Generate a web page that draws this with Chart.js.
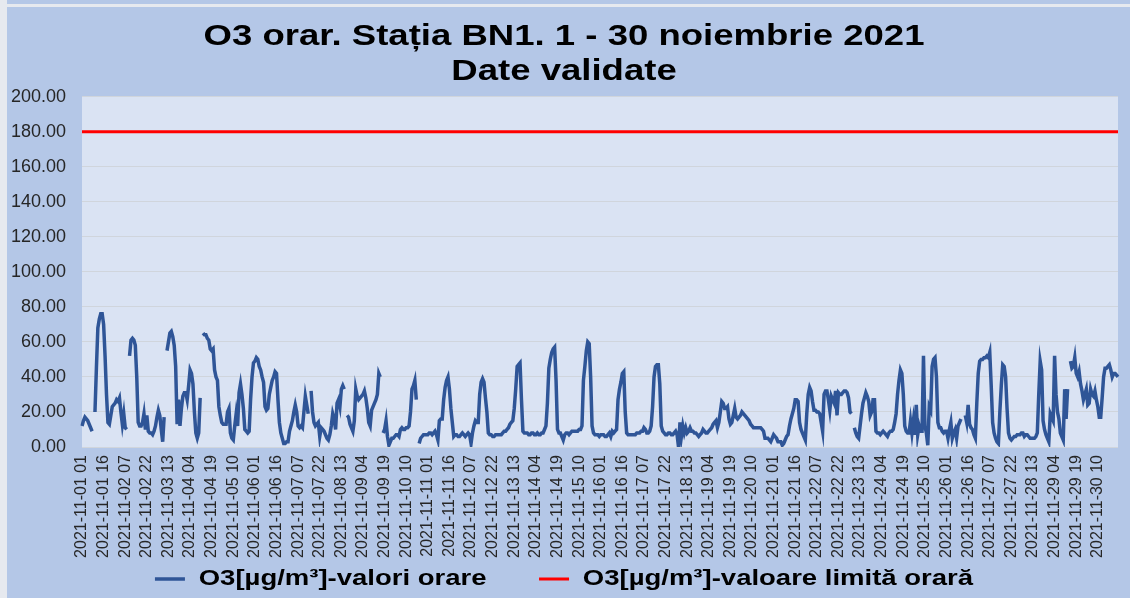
<!DOCTYPE html>
<html><head><meta charset="utf-8">
<script src="https://cdn.jsdelivr.net/npm/chart.js@4"></script>
<style>html,body{margin:0;padding:0;background:#b4c7e7;}canvas{display:block;}</style>
</head><body>
<canvas id="c" width="1130" height="598"></canvas>
<script>
// Hourly O3 values (µg/m³), one array per day, hours 01..24
const day01=[12,15,17,16,15,13,11,9,null,20,45,68,73,76,76,70,52,30,14,13,18,23,24,25];
const day02=[27,26,28,20,13,19,11,10,null,52,61,62,61,58,40,14,12,12,14,19,10,18,9,8];
const day03=[8,7,9,12,17,21,18,10,3,17,null,55,60,65,66,63,58,46,13,27,12,22,29,31];
const day04=[31,27,35,44,42,36,20,8,5,8,28,null,65,64,64,62,61,56,55,56,44,40,38,23];
const day05=[18,14,13,13,13,20,22,8,5,4,12,19,12,31,36,30,22,10,9,8,9,27,40,48];
const day06=[49,51,50,46,44,40,37,23,21,22,30,34,38,40,43,42,27,14,8,5,2,2,3,3];
const day07=[9,12,15,20,24,20,12,11,12,11,20,29,24,19,null,32,20,14,12,13,14,6,11,10];
const day08=[9,7,5,4,7,12,19,16,10,25,27,23,33,35,33,null,18,17,13,11,9,15,33,29];
const day09=[27,28,29,30,32,28,22,14,12,21,23,25,27,30,42,40,null,8,10,15,6,1,3,5];
const day10=[5,6,7,7,6,10,11,10,10,11,11,12,20,33,35,38,27,null,2,5,6,7,7,7];
const day11=[7,8,8,7,8,9,7,4,15,16,16,27,34,38,40,33,22,14,6,7,7,6,6,7];
const day12=[8,7,6,7,8,7,2,8,12,15,14,14,30,37,39,37,28,20,8,7,7,6,6,7];
const day13=[7,7,7,7,8,9,9,10,11,13,14,15,22,33,46,47,48,27,9,8,8,8,7,7];
const day14=[8,8,7,7,8,7,7,8,8,10,12,25,45,50,54,56,57,38,10,8,8,6,4,7];
const day15=[8,8,7,8,9,9,9,9,9,10,10,12,38,46,55,60,59,40,12,8,7,7,7,6];
const day16=[7,7,7,6,6,7,8,6,9,8,9,10,27,33,37,42,43,20,8,7,7,7,7,7];
const day17=[7,8,8,8,9,9,11,10,8,8,9,12,23,40,46,47,47,36,12,9,8,7,7,8];
const day18=[8,7,7,8,9,7,0,14,6,12,8,11,8,9,11,9,9,8,8,7,6,7,8,10];
const day19=[9,8,8,9,10,11,13,14,15,11,14,20,26,25,22,22,23,16,13,14,18,22,17,16];
const day20=[17,18,20,19,18,17,16,15,13,12,11,11,11,11,11,11,10,9,5,5,5,4,3,5];
const day21=[7,6,5,3,3,3,1,2,4,6,7,12,16,19,22,27,27,26,14,10,8,6,4,19];
const day22=[30,34,32,26,21,21,20,20,19,14,9,30,32,32,27,21,29,27,25,32,18,31,30,30];
const day23=[31,32,32,31,28,20,19,null,11,8,6,5,12,19,25,28,31,29,26,18,20,27,27,9];
const day24=[8,8,7,8,9,8,7,6,8,9,9,10,14,19,30,38,44,42,30,12,9,8,8,15];
const day25=[8,15,7,24,7,12,9,9,52,12,8,1,23,21,46,50,51,40,14,11,11,9,8,9];
const day26=[9,5,10,14,5,8,10,5,12,14,16,null,null,18,14,24,13,11,10,7,5,25,42,49];
const day27=[50,50,51,51,52,51,54,35,14,8,5,3,2,20,35,47,46,40,22,8,5,4,5,6];
const day28=[6,7,7,7,8,8,6,7,7,6,5,5,5,5,6,8,30,49,44,15,10,7,5,3];
const day29=[19,17,15,52,30,20,16,8,6,4,33,16,33,null,49,45,46,51,42,40,43,36,32,27];
const day30=[30,33,24,25,33,30,29,32,27,23,17,17,28,40,45,45,46,47,44,40,42,42,41,40];

const limitValue=180;

const tickLabels=[
'2021-11-01 01','2021-11-01 16','2021-11-02 07','2021-11-02 22','2021-11-03 13','2021-11-04 04',
'2021-11-04 19','2021-11-05 10','2021-11-06 01','2021-11-06 16','2021-11-07 07','2021-11-07 22',
'2021-11-08 13','2021-11-09 04','2021-11-09 19','2021-11-10 10','2021-11-11 01','2021-11-11 16',
'2021-11-12 07','2021-11-12 22','2021-11-13 13','2021-11-14 04','2021-11-14 19','2021-11-15 10',
'2021-11-16 01','2021-11-16 16','2021-11-17 07','2021-11-17 22','2021-11-18 13','2021-11-19 04',
'2021-11-19 19','2021-11-20 10','2021-11-21 01','2021-11-21 16','2021-11-22 07','2021-11-22 22',
'2021-11-23 13','2021-11-24 04','2021-11-24 19','2021-11-25 10','2021-11-26 01','2021-11-26 16',
'2021-11-27 07','2021-11-27 22','2021-11-28 13','2021-11-29 04','2021-11-29 19','2021-11-30 10'];

const days=[day01,day02,day03,day04,day05,day06,day07,day08,day09,day10,day11,day12,day13,day14,day15,
day16,day17,day18,day19,day20,day21,day22,day23,day24,day25,day26,day27,day28,day29,day30];
const o3=[].concat(...days);
const pad=n=>String(n).padStart(2,'0');
const categories=[];
days.forEach((d,di)=>d.forEach((v,h)=>categories.push('2021-11-'+pad(di+1)+' '+pad(h+1))));

const FONT="'Liberation Sans', Arial, sans-serif";

const bgPlugin={id:'bg',beforeDraw(chart){
  const c=chart.ctx, a=chart.chartArea;
  c.save();
  c.fillStyle='#b4c7e7'; c.fillRect(0,0,chart.width,chart.height);
  c.fillStyle='#e6e9ef'; c.fillRect(0,0,7,chart.height); c.fillRect(0,4,chart.width,3);
  c.fillStyle='#dae3f3'; c.fillRect(a.left,a.top,a.right-a.left,a.bottom-a.top);
  c.restore();
}};

// the reference's title and legend text is drawn horizontally widened
const stretchPlugin={id:'stretch',beforeDraw(chart){
  [[chart.titleBlock,1.26,0],[chart.legend,1.25,32]].forEach(([box,sx,up])=>{
    if(!box||box._stretched) return;
    const orig=box.draw;
    box.draw=function(...args){
      const c=chart.ctx, cx=(this.left+this.right)/2, t=this.top;
      this.top=t-up;
      c.save(); c.translate(cx,0); c.scale(sx,1); c.translate(-cx,0);
      orig.apply(this,args); c.restore();
      this.top=t;
    };
    box._stretched=true;
  });
}};

new Chart(document.getElementById('c'),{
  type:'line',
  data:{labels:categories,datasets:[
    {label:'O3[µg/m³]-valori orare',data:o3,borderColor:'#2f5597',backgroundColor:'#2f5597',borderWidth:3.5,pointRadius:0,tension:0,spanGaps:false},
    {label:'O3[µg/m³]-valoare limită orară',data:[{x:categories[0],y:limitValue},{x:categories[categories.length-1],y:limitValue}],borderColor:'#ff0000',backgroundColor:'#ff0000',borderWidth:3,pointRadius:0}
  ]},
  options:{
    responsive:false,animation:false,devicePixelRatio:1,
    layout:{padding:{left:10,right:12,top:0,bottom:0}},
    plugins:{
      title:{display:true,text:['O3 orar. Stația BN1. 1 - 30 noiembrie 2021','Date validate'],color:'#000',
        font:{family:FONT,size:29,weight:'bold',lineHeight:1.2},padding:{top:20,bottom:7}},
      legend:{position:'bottom',maxHeight:40,labels:{usePointStyle:true,pointStyle:'line',pointStyleWidth:24,color:'#000',
        font:{family:FONT,size:22,weight:'bold'},padding:42}},
      tooltip:{enabled:false}
    },
    scales:{
      x:{grid:{display:false,drawTicks:false},border:{display:false},
        ticks:{autoSkip:false,minRotation:90,maxRotation:90,padding:8,color:'#262626',font:{family:FONT,size:16},
          callback:function(v,i){return i%15===0?tickLabels[i/15]:null;}},
        afterFit:s=>{s.height=111;}},
      y:{min:0,max:200,grid:{color:'#d0d5dc',drawTicks:false},border:{display:false},
        ticks:{stepSize:20,padding:16,color:'#262626',font:{family:FONT,size:18},callback:v=>v.toFixed(2)},
        afterFit:s=>{s.width=72;}}
    }
  },
  plugins:[bgPlugin,stretchPlugin]
});
</script>
</body></html>
